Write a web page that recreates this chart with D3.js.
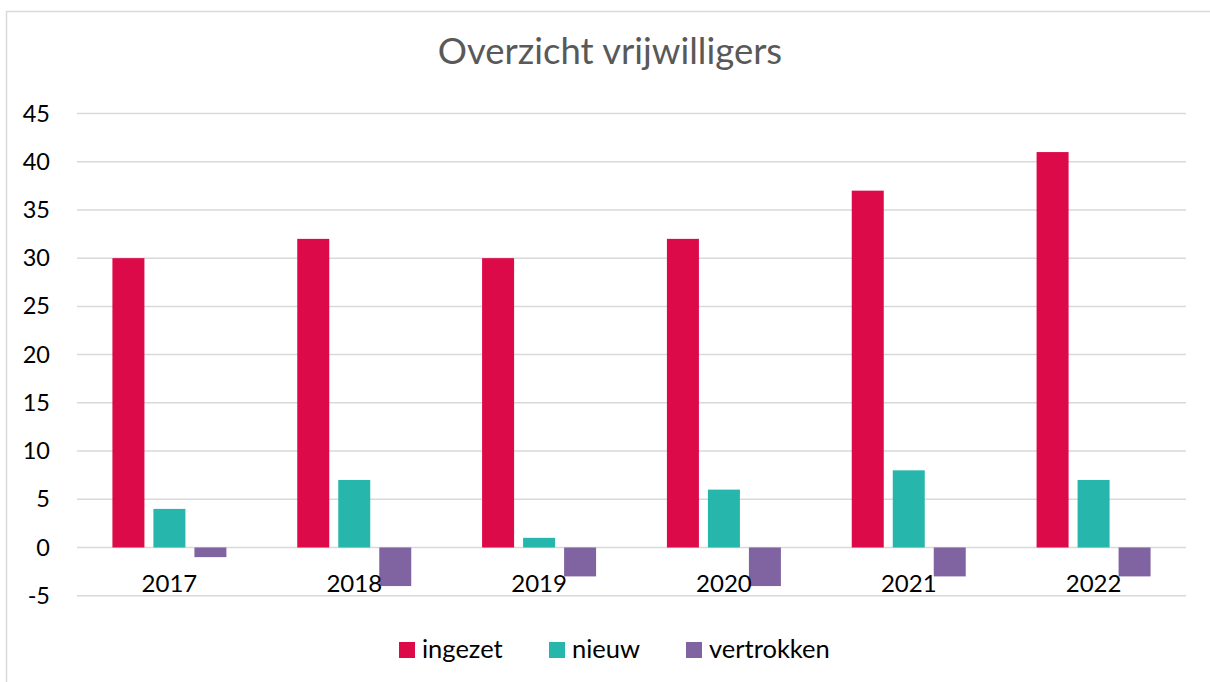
<!DOCTYPE html>
<html>
<head>
<meta charset="utf-8">
<script src="https://cdn.jsdelivr.net/npm/d3@7"></script>
<style>
	body { margin: 0; background: #fff; }
	svg { display: block; font-family: Lato, "Open Sans", sans-serif; }
</style>
</head>
<body>
<svg id="chart" width="1210" height="682"></svg>
<script>
var years = ["2017", "2018", "2019", "2020", "2021", "2022"];
var seriesNames = ["ingezet", "nieuw", "vertrokken"];
var ingezet = [30, 32, 30, 32, 37, 41];
var nieuw = [4, 7, 1, 6, 8, 7];
var vertrokken = [-1, -4, -3, -4, -3, -3];
var yTicks = [-5, 0, 5, 10, 15, 20, 25, 30, 35, 40, 45];
var colors = ["#dc0a48", "#27b6ac", "#8064a2"];

var svg = d3.select("#chart");
var margin = { left: 77, right: 1186, top: 113.5, bottom: 595.7 };

// outer chart frame
svg.append("rect")
	.attr("x", 6.5).attr("y", 11.5)
	.attr("width", 1210).attr("height", 700)
	.attr("fill", "none")
	.attr("stroke", "#d9d9d9")
	.attr("stroke-width", 1.5);

svg.append("text")
	.attr("x", 610).attr("y", 64)
	.attr("text-anchor", "middle")
	.attr("font-size", 36.5)
	.attr("fill", "#595959")
	.text("Overzicht vrijwilligers");

var x = d3.scaleBand().domain(years).range([margin.left, margin.right]);
var y = d3.scaleLinear().domain([-5, 45]).range([margin.bottom, margin.top]);

var barW = 32, gap = 9;
var groupW = 3 * barW + 2 * gap;

// gridlines
svg.append("g").selectAll("line")
	.data(yTicks)
	.join("line")
	.attr("x1", margin.left).attr("x2", margin.right)
	.attr("y1", function (d) { return y(d); })
	.attr("y2", function (d) { return y(d); })
	.attr("stroke", "#d9d9d9")
	.attr("stroke-width", 1.5);

// y axis labels (plain hyphen for negatives, like the original)
var yAxis = d3.axisLeft(y).tickValues(yTicks).tickSize(0).tickPadding(0)
	.tickFormat(function (d) { return String(d); });
var gy = svg.append("g").attr("transform", "translate(50,0)").call(yAxis);
gy.select(".domain").remove();
gy.selectAll("text")
	.attr("font-family", "Lato, 'Open Sans', sans-serif")
	.attr("font-size", 23.5)
	.attr("fill", "#000");

var table = years.map(function (yr, i) {
	return { year: yr, values: [ingezet[i], nieuw[i], vertrokken[i]] };
});

var groups = svg.append("g").selectAll("g")
	.data(table)
	.join("g")
	.attr("transform", function (d) {
		return "translate(" + (x(d.year) + (x.bandwidth() - groupW) / 2) + ",0)";
	});

groups.selectAll("rect")
	.data(function (d) { return d.values; })
	.join("rect")
	.attr("x", function (d, i) { return i * (barW + gap); })
	.attr("y", function (d) { return y(Math.max(0, d)); })
	.attr("width", barW)
	.attr("height", function (d) { return Math.abs(y(d) - y(0)); })
	.attr("fill", function (d, i) { return colors[i]; });

// category labels just below zero line
var xAxis = d3.axisBottom(x).tickSize(0).tickPadding(0);
var gx = svg.append("g").attr("transform", "translate(0," + y(0) + ")").call(xAxis);
gx.select(".domain").remove();
gx.selectAll("text")
	.attr("dy", 0)
	.attr("y", 45)
	.attr("font-family", "Lato, 'Open Sans', sans-serif")
	.attr("font-size", 24)
	.attr("fill", "#000");

// legend
var legendX = [399, 549, 686];
var legend = svg.append("g").selectAll("g")
	.data(seriesNames)
	.join("g")
	.attr("transform", function (d, i) { return "translate(" + legendX[i] + ",642)"; });
legend.append("rect")
	.attr("width", 16).attr("height", 16)
	.attr("fill", function (d, i) { return colors[i]; });
legend.append("text")
	.attr("x", 23).attr("y", 16)
	.attr("font-size", 25.5)
	.attr("fill", "#000")
	.text(function (d) { return d; });
</script>
</body>
</html>
